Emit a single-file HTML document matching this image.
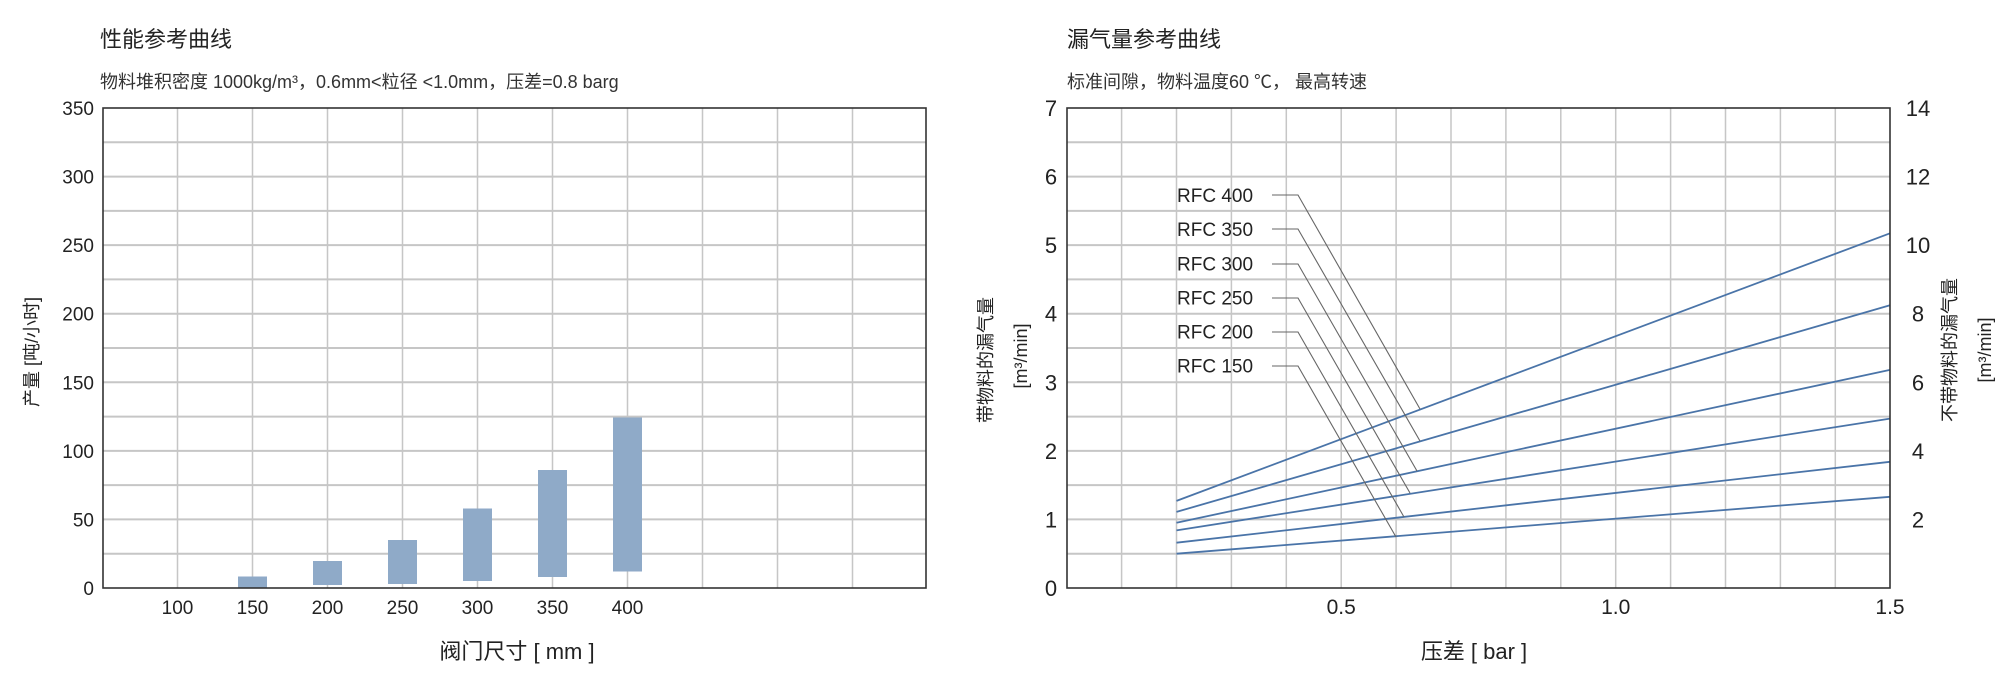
<!DOCTYPE html>
<html><head><meta charset="utf-8"><style>
html,body{margin:0;padding:0;background:#fff;}
svg{display:block;font-family:"Liberation Sans","Noto Sans CJK SC",sans-serif;}
</style></head><body>
<svg width="2000" height="682" viewBox="0 0 2000 682" xmlns="http://www.w3.org/2000/svg">
<!-- LEFT CHART -->
<text x="100" y="47" font-size="22" fill="#222">性能参考曲线</text>
<text x="100" y="88" font-size="18" fill="#333">物料堆积密度 1000kg/m³，0.6mm&lt;粒径 &lt;1.0mm，压差=0.8 barg</text>
<g stroke="#c6c6c6" stroke-width="1.5">
<line x1="177.5" y1="108" x2="177.5" y2="588"/><line x1="252.5" y1="108" x2="252.5" y2="588"/><line x1="327.5" y1="108" x2="327.5" y2="588"/><line x1="402.5" y1="108" x2="402.5" y2="588"/><line x1="477.5" y1="108" x2="477.5" y2="588"/><line x1="552.5" y1="108" x2="552.5" y2="588"/><line x1="627.5" y1="108" x2="627.5" y2="588"/><line x1="702.5" y1="108" x2="702.5" y2="588"/><line x1="777.5" y1="108" x2="777.5" y2="588"/><line x1="852.5" y1="108" x2="852.5" y2="588"/>
</g>
<g stroke="#c6c6c6" stroke-width="2">
<line x1="103" y1="142.3" x2="926" y2="142.3"/><line x1="103" y1="176.6" x2="926" y2="176.6"/><line x1="103" y1="210.9" x2="926" y2="210.9"/><line x1="103" y1="245.1" x2="926" y2="245.1"/><line x1="103" y1="279.4" x2="926" y2="279.4"/><line x1="103" y1="313.7" x2="926" y2="313.7"/><line x1="103" y1="348" x2="926" y2="348"/><line x1="103" y1="382.3" x2="926" y2="382.3"/><line x1="103" y1="416.6" x2="926" y2="416.6"/><line x1="103" y1="450.9" x2="926" y2="450.9"/><line x1="103" y1="485.1" x2="926" y2="485.1"/><line x1="103" y1="519.4" x2="926" y2="519.4"/><line x1="103" y1="553.7" x2="926" y2="553.7"/>
</g>
<g fill="#8faac8">
<rect x="238" y="576.5" width="29" height="11.5"/>
<rect x="313" y="561" width="29" height="24"/>
<rect x="388" y="540" width="29" height="44"/>
<rect x="463" y="508.5" width="29" height="72.5"/>
<rect x="538" y="470" width="29" height="107"/>
<rect x="613" y="417.5" width="29" height="154"/>
</g>
<rect x="103" y="108" width="823" height="480" fill="none" stroke="#333" stroke-width="1.6"/>
<g font-size="19" fill="#222" text-anchor="end">
<text x="94" y="115">350</text><text x="94" y="183.6">300</text><text x="94" y="252.1">250</text><text x="94" y="320.7">200</text><text x="94" y="389.3">150</text><text x="94" y="457.9">100</text><text x="94" y="526.4">50</text><text x="94" y="595">0</text>
</g>
<g font-size="19" fill="#222" text-anchor="middle">
<text x="177.5" y="614">100</text><text x="252.5" y="614">150</text><text x="327.5" y="614">200</text><text x="402.5" y="614">250</text><text x="477.5" y="614">300</text><text x="552.5" y="614">350</text><text x="627.5" y="614">400</text>
</g>
<text x="517" y="659" font-size="22" fill="#222" text-anchor="middle">阀门尺寸 [ mm ]</text>
<text transform="translate(38,352) rotate(-90)" font-size="18" fill="#222" text-anchor="middle">产量 [吨/小时]</text>

<!-- RIGHT CHART -->
<text x="1067" y="47" font-size="22" fill="#222">漏气量参考曲线</text>
<text x="1067" y="88" font-size="18" fill="#333">标准间隙，物料温度60 ℃， 最高转速</text>
<g stroke="#c6c6c6" stroke-width="1.5">
<line x1="1121.6" y1="108" x2="1121.6" y2="588"/><line x1="1176.5" y1="108" x2="1176.5" y2="588"/><line x1="1231.4" y1="108" x2="1231.4" y2="588"/><line x1="1286.3" y1="108" x2="1286.3" y2="588"/><line x1="1341.2" y1="108" x2="1341.2" y2="588"/><line x1="1396.1" y1="108" x2="1396.1" y2="588"/><line x1="1451" y1="108" x2="1451" y2="588"/><line x1="1505.9" y1="108" x2="1505.9" y2="588"/><line x1="1560.8" y1="108" x2="1560.8" y2="588"/><line x1="1615.7" y1="108" x2="1615.7" y2="588"/><line x1="1670.6" y1="108" x2="1670.6" y2="588"/><line x1="1725.5" y1="108" x2="1725.5" y2="588"/><line x1="1780.4" y1="108" x2="1780.4" y2="588"/><line x1="1835.3" y1="108" x2="1835.3" y2="588"/>
</g>
<g stroke="#c6c6c6" stroke-width="2">
<line x1="1067" y1="142.3" x2="1890" y2="142.3"/><line x1="1067" y1="176.6" x2="1890" y2="176.6"/><line x1="1067" y1="210.9" x2="1890" y2="210.9"/><line x1="1067" y1="245.1" x2="1890" y2="245.1"/><line x1="1067" y1="279.4" x2="1890" y2="279.4"/><line x1="1067" y1="313.7" x2="1890" y2="313.7"/><line x1="1067" y1="348" x2="1890" y2="348"/><line x1="1067" y1="382.3" x2="1890" y2="382.3"/><line x1="1067" y1="416.6" x2="1890" y2="416.6"/><line x1="1067" y1="450.9" x2="1890" y2="450.9"/><line x1="1067" y1="485.1" x2="1890" y2="485.1"/><line x1="1067" y1="519.4" x2="1890" y2="519.4"/><line x1="1067" y1="553.7" x2="1890" y2="553.7"/>
</g>
<g stroke="#4a74a8" stroke-width="1.8" fill="none">
<line x1="1176.5" y1="500.9" x2="1890" y2="233.3"/>
<line x1="1176.5" y1="511.9" x2="1890" y2="305.3"/>
<line x1="1176.5" y1="522.8" x2="1890" y2="369.9"/>
<line x1="1176.5" y1="530.4" x2="1890" y2="418.6"/>
<line x1="1176.5" y1="542.7" x2="1890" y2="461.8"/>
<line x1="1176.5" y1="553.7" x2="1890" y2="496.8"/>
</g>
<g stroke="#666" stroke-width="1.1" fill="none">
<polyline points="1272,195 1298,195 1420,409"/>
<polyline points="1272,229 1298,229 1420,441"/>
<polyline points="1272,264 1298,264 1417,471"/>
<polyline points="1272,298 1298,298 1410,493"/>
<polyline points="1272,332 1298,332 1404,517"/>
<polyline points="1272,366 1298,366 1396,537"/>
</g>
<g font-size="19" fill="#222">
<text x="1177" y="202">RFC 400</text><text x="1177" y="236">RFC 350</text><text x="1177" y="270.5">RFC 300</text><text x="1177" y="304.5">RFC 250</text><text x="1177" y="338.5">RFC 200</text><text x="1177" y="372.5">RFC 150</text>
</g>
<rect x="1067" y="108" width="823" height="480" fill="none" stroke="#333" stroke-width="1.6"/>
<g font-size="22" fill="#222" text-anchor="middle">
<text x="1051" y="116">7</text><text x="1051" y="184.6">6</text><text x="1051" y="253.1">5</text><text x="1051" y="321.7">4</text><text x="1051" y="390.3">3</text><text x="1051" y="458.9">2</text><text x="1051" y="527.4">1</text><text x="1051" y="596">0</text>
</g>
<g font-size="22" fill="#222" text-anchor="middle">
<text x="1918" y="116">14</text><text x="1918" y="184.6">12</text><text x="1918" y="253.1">10</text><text x="1918" y="321.7">8</text><text x="1918" y="390.3">6</text><text x="1918" y="458.9">4</text><text x="1918" y="527.4">2</text>
</g>
<g font-size="21" fill="#222" text-anchor="middle">
<text x="1341.2" y="614">0.5</text><text x="1615.7" y="614">1.0</text><text x="1890" y="614">1.5</text>
</g>
<text x="1474" y="659" font-size="22" fill="#222" text-anchor="middle">压差 [ bar ]</text>
<text transform="translate(992,360) rotate(-90)" font-size="18" fill="#222" text-anchor="middle">带物料的漏气量</text>
<text transform="translate(1027,356) rotate(-90)" font-size="18" fill="#222" text-anchor="middle">[m³/min]</text>
<text transform="translate(1956,350) rotate(-90)" font-size="18" fill="#222" text-anchor="middle">不带物料的漏气量</text>
<text transform="translate(1991,350) rotate(-90)" font-size="18" fill="#222" text-anchor="middle">[m³/min]</text>
</svg>
</body></html>
